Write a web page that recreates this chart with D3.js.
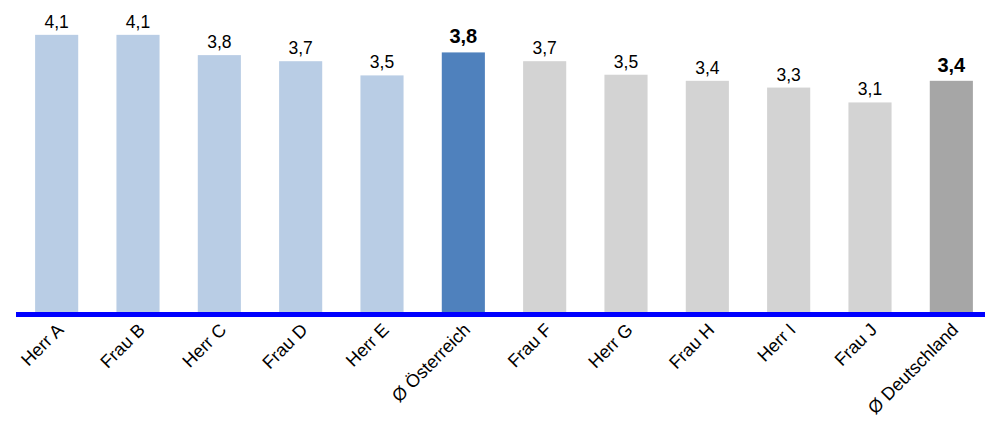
<!DOCTYPE html>
<html>
<head>
<meta charset="utf-8">
<script src="https://cdn.jsdelivr.net/npm/d3@7"></script>
<style>
  body { margin: 0; background: #fff; }
  text { font-family: "Liberation Sans", Arial, sans-serif; }
</style>
</head>
<body>
<script>
const names = ["Herr A", "Frau B", "Herr C", "Frau D", "Herr E", "Ø Österreich",
               "Frau F", "Herr G", "Frau H", "Herr I", "Frau J", "Ø Deutschland"];
const values = [4.10, 4.10, 3.80, 3.71, 3.50, 3.84, 3.71, 3.51, 3.42, 3.32, 3.10, 3.42];
const kinds = ["at", "at", "at", "at", "at", "avgAt", "de", "de", "de", "de", "de", "avgDe"];

const colors = { at: "#b9cde5", avgAt: "#4f81bd", de: "#d3d3d3", avgDe: "#a6a6a6" };

const w = 985, h = 421;
const base = 312;

const svg = d3.select("body").append("svg")
    .attr("width", w)
    .attr("height", h);

const x = d3.scaleBand()
    .domain(names)
    .range([16, 992])
    .paddingInner(0.47)
    .paddingOuter(0.235);

const y = d3.scaleLinear()
    .domain([0, 4.6])
    .range([base, base - 4.6 * 67.6]);

const fmt = d3.formatLocale({ decimal: ",", thousands: ".", grouping: [3], currency: ["", "€"] }).format(".1f");

const data = names.map(function (d, i) { return { name: d, value: values[i], kind: kinds[i] }; });

svg.selectAll(".bar")
    .data(data)
    .enter().append("rect")
    .attr("class", "bar")
    .attr("x", function (d) { return x(d.name); })
    .attr("y", function (d) { return y(d.value); })
    .attr("width", x.bandwidth())
    .attr("height", function (d) { return base - y(d.value); })
    .style("fill", function (d) { return colors[d.kind]; });

svg.selectAll(".val")
    .data(data)
    .enter().append("text")
    .attr("class", "val")
    .text(function (d) { return fmt(d.value); })
    .attr("x", function (d) { return x(d.name) + x.bandwidth() / 2; })
    .attr("y", function (d) { return y(d.value) - (d.kind.indexOf("avg") === 0 ? 9 : 7); })
    .attr("text-anchor", "middle")
    .attr("font-size", function (d) { return d.kind.indexOf("avg") === 0 ? "20px" : "17.5px"; })
    .attr("font-weight", function (d) { return d.kind.indexOf("avg") === 0 ? "bold" : "normal"; })
    .attr("fill", "#000");

// baseline
svg.append("line")
    .attr("x1", 16)
    .attr("x2", w)
    .attr("y1", base + 2.5)
    .attr("y2", base + 2.5)
    .attr("stroke", "#0000ff")
    .attr("stroke-width", 5);

svg.selectAll(".cat")
    .data(names)
    .enter().append("text")
    .attr("class", "cat")
    .text(function (d) { return d; })
    .attr("text-anchor", "end")
    .attr("font-size", "18px")
    .attr("fill", "#000")
    .attr("transform", function (d) {
        return "translate(" + (x(d) + x.bandwidth() / 2 + 8) + "," + 331 + ") rotate(-45)";
    });
</script>
</body>
</html>
